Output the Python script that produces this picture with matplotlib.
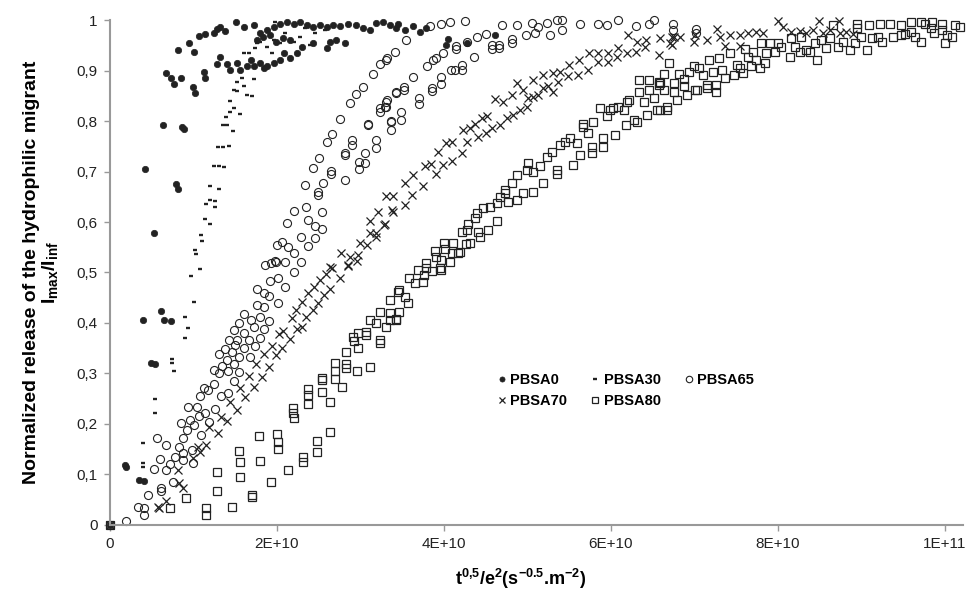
import matplotlib
matplotlib.use("Agg")
import matplotlib.pyplot as plt

plt.rcParams['font.family'] = ['Liberation Sans', 'DejaVu Sans']
plt.rcParams['mathtext.default'] = 'regular'

# x values are in units of 1E+10
x_scale = 1e10

pbsa0_x = [0, 0.18, 0.19, 0.35, 0.41, 0.39, 0.61, 0.65, 0.73, 0.49, 0.54, 0.42, 0.79, 0.81,
           0.53, 0.63, 0.86, 0.89, 0.67, 0.73, 0.77, 0.85, 0.81, 0.95, 1.01, 0.99, 1.02, 1.12,
           1.14, 1.07, 1.14, 1.24, 1.28, 1.32, 1.38, 1.51, 1.60, 1.72, 1.32, 1.28, 1.40, 1.44,
           1.52, 1.56, 1.64, 1.69, 1.72, 1.80, 1.84, 1.88, 1.96, 2.04, 2.08, 2.16, 2.24, 2.30,
           2.43, 2.60, 2.63, 2.71, 2.81, 1.80, 1.88, 1.96, 2.04, 2.12, 2.20, 2.28, 2.36, 2.43,
           2.51, 2.60, 2.67, 2.75, 2.85, 2.95, 3.03, 3.11, 3.19, 3.27, 3.35, 3.43, 1.76, 1.83,
           1.92, 1.99, 2.07, 2.16, 3.45, 3.53, 3.63, 3.71, 3.78, 4.05, 4.03, 4.28, 4.61]
pbsa0_y = [0, 0.119, 0.114, 0.090, 0.087, 0.405, 0.424, 0.406, 0.404, 0.321, 0.319, 0.704, 0.675, 0.665,
           0.578, 0.793, 0.789, 0.785, 0.896, 0.885, 0.873, 0.885, 0.941, 0.955, 0.936, 0.868, 0.855, 0.898,
           0.886, 0.968, 0.972, 0.975, 0.982, 0.987, 0.978, 0.997, 0.986, 0.991, 0.927, 0.913, 0.912, 0.901,
           0.914, 0.901, 0.909, 0.921, 0.908, 0.914, 0.904, 0.908, 0.914, 0.921, 0.934, 0.924, 0.934, 0.947,
           0.954, 0.944, 0.957, 0.960, 0.954, 0.974, 0.980, 0.987, 0.993, 0.997, 0.993, 0.997, 0.990, 0.987,
           0.990, 0.987, 0.990, 0.988, 0.992, 0.990, 0.984, 0.980, 0.994, 0.997, 0.990, 0.984, 0.960, 0.966,
           0.970, 0.956, 0.964, 0.960, 0.992, 0.980, 0.988, 0.976, 0.984, 0.962, 0.950, 0.954, 0.970]

pbsa30_x = [0, 0.97, 1.08, 1.01, 0.90, 0.94, 0.90, 0.74, 0.74, 0.77, 0.54, 0.54, 0.40, 0.40, 0.40,
            1.02, 1.03, 1.09, 1.10, 1.14, 1.20, 1.15, 1.20, 1.26, 1.26, 1.20, 1.31, 1.24, 1.30,
            1.37, 1.29, 1.35, 1.42, 1.47, 1.35, 1.40, 1.39, 1.44, 1.49, 1.56, 1.44, 1.48, 1.52,
            1.60, 1.64, 1.70, 1.52, 1.58, 1.73, 1.60, 1.66, 1.74, 1.76, 1.80, 1.88, 1.94, 1.96,
            2.04, 1.98, 2.10, 2.20, 2.28, 2.34, 2.46, 2.57, 2.40]
pbsa30_y = [0, 0.494, 0.506, 0.442, 0.411, 0.391, 0.370, 0.328, 0.320, 0.304, 0.250, 0.222, 0.162, 0.123, 0.114,
            0.545, 0.537, 0.574, 0.563, 0.605, 0.597, 0.636, 0.644, 0.642, 0.630, 0.671, 0.665, 0.711, 0.711,
            0.708, 0.749, 0.749, 0.750, 0.780, 0.792, 0.792, 0.807, 0.818, 0.826, 0.813, 0.840, 0.861, 0.859,
            0.869, 0.851, 0.849, 0.878, 0.885, 0.883, 0.934, 0.935, 0.944, 0.954, 0.957, 0.947, 0.934, 0.960,
            0.954, 0.997, 0.974, 0.957, 0.967, 0.984, 0.974, 0.980, 0.950]

pbsa65_x = [0, 0.19, 0.34, 0.41, 0.41, 0.45, 0.61, 0.61, 0.76, 0.53, 0.60, 0.67, 0.72, 0.78, 0.88,
            0.88, 0.83, 0.56, 0.67, 0.87, 0.92, 0.98, 0.99, 1.09, 0.85, 0.96, 1.01, 0.93, 1.04,
            1.07, 1.14, 1.18, 1.08, 1.17, 1.13, 1.25, 1.26, 1.33, 1.41, 1.48, 1.25, 1.30, 1.34,
            1.41, 1.31, 1.38, 1.43, 1.46, 1.40, 1.48, 1.55, 1.55, 1.61, 1.68, 1.50, 1.52, 1.49,
            1.54, 1.60, 1.60, 1.69, 1.73, 1.67, 1.74, 1.80, 1.85, 1.91, 1.80, 1.76, 1.85, 2.01,
            1.76, 1.84, 1.91, 1.92, 2.01, 2.10, 2.20, 1.86, 1.93, 1.99, 2.10, 2.29,
            1.98, 2.00, 2.06, 2.13, 2.20, 2.12, 2.20, 2.29, 2.37, 2.37, 2.35, 2.46, 2.46, 2.54,
            2.54, 2.34, 2.49, 2.49, 2.55, 2.43, 2.50, 2.65, 2.65, 2.81, 2.60, 2.66, 2.75, 2.81,
            2.81, 2.90, 2.90, 2.98, 2.98, 3.05, 3.05, 3.09, 3.09, 3.19, 3.19, 2.87, 2.95, 3.03,
            3.15, 3.23, 3.32, 3.41, 3.23, 3.23, 3.31, 3.31, 3.37, 3.37, 3.43, 3.43,
            3.31, 3.55, 3.83, 3.97, 4.07, 4.25, 3.29, 3.32, 3.36, 3.48, 3.48, 3.52, 3.52, 3.63,
            3.70, 3.70, 3.86, 3.86, 3.97, 3.97, 4.08, 4.13, 4.21, 4.21, 4.36, 3.80, 3.87, 3.90,
            3.99, 4.14, 4.14, 4.28, 4.39, 4.50, 4.57, 4.66, 4.57, 4.66, 4.81, 4.81, 4.98, 5.09,
            5.13, 5.27, 5.41, 5.41, 5.63, 5.85, 5.95, 6.08, 4.69, 4.87, 5.05, 5.23, 5.35, 6.30,
            6.45, 6.51, 6.74, 6.74, 7.02, 7.02]
pbsa65_y = [0, 0.007, 0.036, 0.033, 0.020, 0.059, 0.073, 0.068, 0.086, 0.110, 0.131, 0.108, 0.121, 0.135, 0.129,
            0.143, 0.155, 0.173, 0.158, 0.172, 0.188, 0.149, 0.122, 0.178, 0.201, 0.208, 0.198, 0.234, 0.234,
            0.216, 0.221, 0.203, 0.255, 0.267, 0.272, 0.279, 0.229, 0.255, 0.262, 0.286, 0.307, 0.300, 0.314,
            0.304, 0.339, 0.348, 0.366, 0.343, 0.327, 0.319, 0.333, 0.302, 0.350, 0.333, 0.356, 0.366, 0.386,
            0.399, 0.380, 0.417, 0.406, 0.393, 0.366, 0.354, 0.370, 0.389, 0.403, 0.412, 0.436, 0.432, 0.439,
            0.467, 0.459, 0.453, 0.484, 0.490, 0.471, 0.500, 0.515, 0.518, 0.521, 0.521, 0.520,
            0.523, 0.554, 0.561, 0.550, 0.538, 0.599, 0.622, 0.571, 0.552, 0.603, 0.629, 0.592, 0.568, 0.620,
            0.586, 0.673, 0.660, 0.653, 0.677, 0.707, 0.727, 0.701, 0.696, 0.683, 0.759, 0.774, 0.803, 0.736,
            0.733, 0.762, 0.752, 0.719, 0.705, 0.736, 0.716, 0.795, 0.792, 0.762, 0.746, 0.836, 0.853, 0.867,
            0.894, 0.913, 0.924, 0.937, 0.825, 0.818, 0.838, 0.828, 0.800, 0.782, 0.858, 0.855,
            0.921, 0.960, 0.988, 0.992, 0.997, 0.999, 0.828, 0.842, 0.799, 0.817, 0.802, 0.868, 0.861, 0.888,
            0.845, 0.834, 0.865, 0.860, 0.887, 0.873, 0.901, 0.901, 0.902, 0.911, 0.927, 0.908, 0.921, 0.924,
            0.934, 0.942, 0.948, 0.957, 0.967, 0.972, 0.942, 0.944, 0.950, 0.950, 0.962, 0.954, 0.970, 0.974,
            0.987, 0.970, 0.980, 1.000, 0.993, 0.993, 0.990, 1.000, 0.990, 0.990, 0.995, 0.995, 1.000, 0.988,
            0.993, 1.000, 0.992, 0.980, 0.982, 0.974]

pbsa70_x = [0, 0.58, 0.59, 0.67, 0.81, 0.83, 0.88, 1.00, 1.05, 1.08, 1.15, 1.19, 1.29, 1.33, 1.40,
            1.44, 1.52, 1.56, 1.62, 1.66, 1.72, 1.75, 1.82, 1.84, 1.90, 1.94, 1.99, 2.02, 2.07,
            2.06, 2.15, 2.18, 2.24, 2.23, 2.30, 2.30, 2.35, 2.37, 2.43, 2.44, 2.49, 2.51, 2.56,
            2.59, 2.63, 2.66, 2.75, 2.85, 2.96, 2.63, 2.77, 2.85, 2.87, 2.97, 2.99, 3.08, 3.11,
            3.19, 3.19, 3.11, 3.21, 3.28, 3.31, 3.39, 3.39, 3.29, 3.38, 3.53, 3.53, 3.62, 3.63,
            3.75, 3.77, 3.85, 3.90, 3.93, 3.99, 4.03, 4.09, 4.09, 4.21, 4.23, 4.28, 4.31, 4.37,
            4.41, 4.45, 4.50, 4.52, 4.57, 4.61, 4.67, 4.71, 4.75, 4.81, 4.83, 4.87, 4.91, 4.95,
            4.99, 5.01, 5.07, 5.07, 5.13, 5.19, 5.19, 5.25, 5.31, 5.31, 5.37, 5.39, 5.49, 5.50,
            5.61, 5.62, 5.73, 5.74, 5.85, 5.85, 5.97, 5.97, 6.07, 6.08, 6.19, 6.20, 6.30, 6.31,
            6.41, 6.42, 6.58, 6.59, 6.71, 6.75, 6.73, 6.73, 6.83, 6.99, 7.01, 7.15, 7.27, 7.30,
            7.36, 7.43, 7.54, 7.54, 7.64, 7.74, 7.82, 8.00, 8.06, 8.16, 8.26, 8.34, 8.42, 8.49,
            8.54, 8.62, 8.73, 8.74, 8.82, 8.90]
pbsa70_y = [0, 0.036, 0.033, 0.048, 0.108, 0.084, 0.073, 0.132, 0.155, 0.145, 0.158, 0.195, 0.183, 0.214, 0.205,
            0.244, 0.228, 0.271, 0.253, 0.295, 0.274, 0.319, 0.294, 0.338, 0.312, 0.354, 0.337, 0.378, 0.385,
            0.350, 0.368, 0.409, 0.389, 0.426, 0.393, 0.442, 0.412, 0.459, 0.426, 0.472, 0.439, 0.485, 0.455,
            0.497, 0.467, 0.508, 0.490, 0.513, 0.523, 0.511, 0.538, 0.515, 0.531, 0.535, 0.558, 0.554, 0.578,
            0.571, 0.578, 0.601, 0.620, 0.594, 0.651, 0.620, 0.651, 0.597, 0.624, 0.634, 0.678, 0.653, 0.693,
            0.671, 0.711, 0.715, 0.696, 0.739, 0.713, 0.756, 0.721, 0.759, 0.736, 0.782, 0.759, 0.786, 0.795,
            0.769, 0.805, 0.776, 0.810, 0.786, 0.843, 0.792, 0.838, 0.805, 0.851, 0.812, 0.875, 0.822, 0.861,
            0.828, 0.845, 0.881, 0.847, 0.851, 0.865, 0.891, 0.869, 0.895, 0.858, 0.878, 0.898, 0.889, 0.911,
            0.891, 0.921, 0.902, 0.934, 0.917, 0.934, 0.917, 0.935, 0.927, 0.944, 0.935, 0.970, 0.937, 0.957,
            0.947, 0.960, 0.931, 0.964, 0.954, 0.967, 0.967, 0.950, 0.967, 0.957, 0.970, 0.960, 0.982, 0.967,
            0.948, 0.970, 0.948, 0.970, 0.974, 0.977, 0.975, 0.999, 0.987, 0.977, 0.979, 0.974, 0.980, 0.999,
            0.975, 0.980, 0.999, 0.974, 0.977, 0.972]

pbsa80_x = [0, 0.72, 0.91, 1.15, 1.15, 1.28, 1.28, 1.46, 1.55, 1.56, 1.56, 1.70, 1.70, 1.79, 1.80,
            1.93, 2.00, 2.01, 2.01, 2.13, 2.19, 2.19, 2.20, 2.31, 2.31, 2.37, 2.37, 2.37, 2.48,
            2.48, 2.54, 2.54, 2.54, 2.63, 2.63, 2.69, 2.69, 2.69, 2.78, 2.83, 2.83, 2.83, 2.91,
            2.92, 2.97, 2.97, 3.07, 3.07, 3.11, 2.96, 3.11, 3.19, 3.23, 3.23, 3.23, 3.31, 3.35,
            3.35, 3.43, 3.45, 3.35, 3.43, 3.46, 3.46, 3.53, 3.57, 3.58, 3.65, 3.69, 3.75, 3.76,
            3.79, 3.79, 3.86, 3.89, 3.90, 3.96, 3.97, 4.00, 4.07, 4.09, 4.19, 4.26,
            3.95, 4.01, 4.11, 4.17, 4.21, 4.27, 4.29, 4.31, 4.37, 4.39, 4.41, 4.43, 4.47, 4.53,
            4.55, 4.63, 4.63, 4.67, 4.73, 4.73, 4.77, 4.81, 4.87, 4.87, 4.95, 4.99, 5.01, 5.07,
            5.07, 5.15, 5.19, 5.23, 5.29, 5.35, 5.35, 5.39, 5.45, 5.51, 5.55, 5.59, 5.63, 5.66,
            5.67, 5.73, 5.77, 5.77, 5.79, 5.87, 5.91, 5.91, 5.95, 5.99, 6.03, 6.05, 6.08, 6.15,
            6.19, 6.18, 6.21, 6.27, 6.31, 6.33, 6.33, 6.39, 6.43, 6.45, 6.45, 6.51, 6.55, 6.57,
            6.58, 6.63, 6.63, 6.67, 6.67, 6.70, 6.75, 6.75, 6.79, 6.81, 6.59, 6.59, 6.87, 6.87,
            6.91, 6.94, 6.99, 7.01, 7.03, 7.06, 7.10, 7.15, 7.15, 7.17, 7.22, 7.26, 7.26, 7.29,
            7.33, 7.37, 7.43, 7.47, 7.51, 7.54, 7.58, 7.60, 7.64, 7.68, 7.70, 7.74, 7.78, 7.80,
            7.84, 7.86, 7.90, 7.96, 8.00, 8.04, 8.14, 8.16, 8.20, 8.26, 8.28, 8.34, 8.38, 8.44,
            8.47, 8.52, 8.58, 8.62, 8.66, 8.72, 8.78, 8.86, 8.92, 8.95, 8.95, 9.00, 9.07, 9.09,
            9.12, 9.20, 9.22, 9.25, 9.34, 9.38, 9.47, 9.47, 9.52, 9.59, 9.59, 9.64, 9.71, 9.71,
            9.76, 9.83, 9.85, 9.87, 9.96, 9.96, 10.00, 10.03, 10.08, 10.12, 10.18]
pbsa80_y = [0, 0.034, 0.054, 0.033, 0.020, 0.104, 0.068, 0.035, 0.147, 0.125, 0.096, 0.059, 0.055, 0.176, 0.127,
            0.086, 0.180, 0.165, 0.150, 0.109, 0.232, 0.222, 0.211, 0.135, 0.124, 0.269, 0.257, 0.240, 0.166,
            0.144, 0.292, 0.287, 0.264, 0.185, 0.244, 0.320, 0.304, 0.290, 0.274, 0.343, 0.319, 0.310, 0.373,
            0.365, 0.350, 0.381, 0.383, 0.376, 0.313, 0.304, 0.406, 0.399, 0.366, 0.360, 0.422, 0.393, 0.446,
            0.419, 0.406, 0.462, 0.406, 0.407, 0.465, 0.422, 0.452, 0.439, 0.490, 0.479, 0.504, 0.482, 0.495,
            0.518, 0.508, 0.502, 0.543, 0.531, 0.504, 0.525, 0.558, 0.521, 0.538, 0.541, 0.556,
            0.508, 0.546, 0.558, 0.538, 0.581, 0.584, 0.597, 0.558, 0.607, 0.617, 0.581, 0.571, 0.627, 0.584,
            0.630, 0.637, 0.601, 0.650, 0.657, 0.663, 0.640, 0.677, 0.693, 0.644, 0.657, 0.703, 0.716, 0.700,
            0.660, 0.710, 0.677, 0.729, 0.739, 0.703, 0.696, 0.752, 0.759, 0.766, 0.713, 0.756, 0.733, 0.795,
            0.789, 0.776, 0.736, 0.749, 0.799, 0.825, 0.766, 0.749, 0.809, 0.822, 0.825, 0.772, 0.828, 0.822,
            0.838, 0.792, 0.842, 0.802, 0.799, 0.881, 0.858, 0.838, 0.812, 0.881, 0.861, 0.845, 0.822, 0.871,
            0.878, 0.894, 0.861, 0.828, 0.822, 0.914, 0.876, 0.858, 0.842, 0.894, 0.875, 0.822, 0.883, 0.869,
            0.851, 0.898, 0.908, 0.861, 0.861, 0.904, 0.891, 0.871, 0.865, 0.921, 0.898, 0.871, 0.858, 0.924,
            0.901, 0.885, 0.934, 0.891, 0.911, 0.904, 0.896, 0.942, 0.927, 0.909, 0.937, 0.921, 0.904, 0.954,
            0.914, 0.934, 0.954, 0.937, 0.954, 0.947, 0.927, 0.964, 0.947, 0.937, 0.967, 0.941, 0.937, 0.954,
            0.921, 0.960, 0.944, 0.964, 0.990, 0.947, 0.957, 0.941, 0.954, 0.993, 0.984, 0.967, 0.941, 0.990,
            0.964, 0.967, 0.992, 0.957, 0.993, 0.967, 0.990, 0.970, 0.972, 0.997, 0.977, 0.967, 0.997, 0.957,
            0.992, 0.984, 0.997, 0.974, 0.992, 0.980, 0.955, 0.970, 0.967, 0.990, 0.987]

y_ticks = [0, 0.1, 0.2, 0.3, 0.4, 0.5, 0.6, 0.7, 0.8, 0.9, 1]
y_tick_labels = ["0", "0,1", "0,2", "0,3", "0,4", "0,5", "0,6", "0,7", "0,8", "0,9", "1"]
x_ticks = [0, 2e10, 4e10, 6e10, 8e10, 1e11]
x_tick_labels = ["0", "2E+10", "4E+10", "6E+10", "8E+10", "1E+11"]

ink = "#222222"

fig = plt.figure(figsize=(9.7, 5.94), dpi=100)
ax = fig.add_axes([0.1134, 0.1162, 0.8794, 0.8501])

def sx(v):
    return [a * x_scale for a in v]

h0, = ax.plot(sx(pbsa0_x), pbsa0_y, linestyle="none", marker="o", ms=4.6,
              mfc=ink, mec=ink, mew=0.5, clip_on=False, label="PBSA0")
h30, = ax.plot(sx(pbsa30_x), pbsa30_y, linestyle="none", marker="_", ms=3.4,
               mec=ink, mew=1.7, clip_on=False, label="PBSA30")
h65, = ax.plot(sx(pbsa65_x), pbsa65_y, linestyle="none", marker="o", ms=5.8,
               mfc="none", mec=ink, mew=0.8, clip_on=False, label="PBSA65")
h70, = ax.plot(sx(pbsa70_x), pbsa70_y, linestyle="none", marker="x", ms=5.6,
               mec=ink, mew=0.9, clip_on=False, label="PBSA70")
h80, = ax.plot(sx(pbsa80_x), pbsa80_y, linestyle="none", marker="s", ms=5.4,
               mfc="none", mec=ink, mew=0.9, clip_on=False, label="PBSA80")

ax.set_xlim(0, 1.0216e11)
ax.set_ylim(0, 1)
ax.set_xticks(x_ticks)
ax.set_xticklabels(x_tick_labels)
ax.set_yticks(y_ticks)
ax.set_yticklabels(y_tick_labels)

for side in ["top", "right"]:
    ax.spines[side].set_visible(False)
for side in ["left", "bottom"]:
    ax.spines[side].set_color("#999999")
    ax.spines[side].set_linewidth(1.5)
ax.tick_params(axis="both", direction="out", length=4, width=1, color="#999999",
               labelsize=11, labelcolor="#222222", pad=5)

ax.set_xlabel("t$^{0{,}5}$/e$^{2}$(s$^{-0.5}$.m$^{-2}$)", fontsize=13, fontweight="bold",
              labelpad=11)
ax.xaxis.label.set_x(0.482)
ax.set_ylabel("Normalized release of the hydrophilic migrant\nI$_{max}$/I$_{inf}$",
              fontsize=14, fontweight="bold", labelpad=12, linespacing=1.0)

leg = ax.legend(handles=[h0, h70, h30, h80, h65], ncol=3, frameon=False,
                loc="upper left", bbox_to_anchor=(490 / 970, 1 - 366 / 594),
                bbox_transform=fig.transFigure, prop={"weight": "bold", "size": 10.5},
                handlelength=0.6, handletextpad=0.3, columnspacing=1.6,
                labelspacing=0.45, borderpad=0, markerscale=0.8)

fig.savefig("out.png", dpi=100)
